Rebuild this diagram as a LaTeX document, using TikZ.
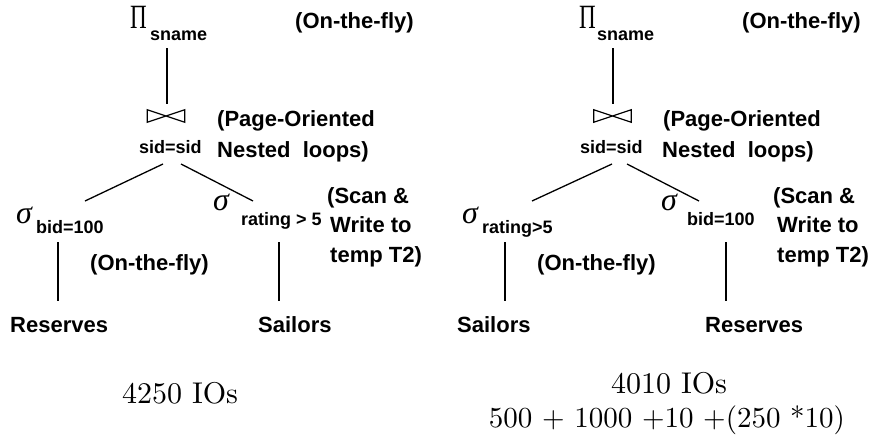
\documentclass[tikz,border=0pt]{standalone}
\usepackage{fontspec}
\setsansfont{Liberation Sans}
\newfontfamily\grkfont{Liberation Serif}
\newfontfamily\costfont{lmroman10-regular}[Extension=.otf]
\begin{document}
\begin{tikzpicture}[x=1pt,y=-1pt]
\tikzset{
  lbl/.style={font=\sffamily\bfseries\fontsize{22}{26}\selectfont, anchor=base west, inner sep=0pt},
  sub/.style={font=\sffamily\bfseries\fontsize{18}{22}\selectfont, anchor=base west, inner sep=0pt},
  cost/.style={font=\costfont\fontsize{30}{34}\selectfont, anchor=base, inner sep=0pt},
  calc/.style={font=\costfont\fontsize{29}{34}\selectfont, anchor=base, inner sep=0pt},
  piop/.style={font=\grkfont\fontsize{34}{36}\selectfont, anchor=base west, inner sep=0pt},
  sigop/.style={font=\grkfont\itshape\fontsize{32}{36}\selectfont, anchor=base west, inner sep=0pt},
  joinop/.style={minimum width=37pt, minimum height=12pt, inner sep=0pt},
  bowtie/.style={line width=1.2pt},
  edgeline/.style={line width=1.3pt},
}
\useasboundingbox (0,0) rectangle (873,439);

% ---------------- Left plan ----------------
\node[piop] (lpi) at (130,28) {\scalebox{0.68}[1]{Π}};
\node[sub] (lpisub) at (150,40) {sname};
\node[lbl] (lotf1) at (295,28) {(On-the-fly)};
\node[joinop] (ljoin) at (166,116) {};
\draw[bowtie] (ljoin.north west) -- (ljoin.south west) -- (ljoin.north east) -- (ljoin.south east) -- cycle;
\node[sub] (lsid) at (139,153) {sid=sid};
\node[lbl] (lpage) at (217,126) {(Page-Oriented};
\node[lbl] (lnest) at (217,157) {Nested\ \ loops)};
\node[sigop] (lsigA) at (16,223) {σ};
\node[sub] (lsigAsub) at (36,233) {bid=100};
\node[sigop] (lsigB) at (213,210) {σ};
\node[sub] (lsigBsub) at (241,225) {rating > 5};
\node[lbl] (lscan1) at (327,203) {(Scan \&};
\node[lbl] (lscan2) at (330,232) {Write to};
\node[lbl] (lscan3) at (330,262) {temp T2)};
\node[lbl] (lotf2) at (90,270) {(On-the-fly)};
\node[lbl] (lres) at (10,332) {Reserves};
\node[lbl] (lsai) at (258,332) {Sailors};
\node[cost] (lcost) at (180,403) {4250 IOs};

\coordinate (lpiB) at (167,48);
\coordinate (ljoinT) at (167,104);
\coordinate (ljoinL) at (163,164);
\coordinate (ljoinR) at (181,164);
\coordinate (lsigAT) at (85,201);
\coordinate (lsigBT) at (253,201);
\coordinate (lsigAB) at (58,242);
\coordinate (lresT) at (58,301);
\coordinate (lsigBB) at (279,242);
\coordinate (lsaiT) at (279,301);
\draw[edgeline] (lpiB) -- (ljoinT);
\draw[edgeline] (ljoinL) -- (lsigAT);
\draw[edgeline] (ljoinR) -- (lsigBT);
\draw[edgeline] (lsigAB) -- (lresT);
\draw[edgeline] (lsigBB) -- (lsaiT);

% ---------------- Right plan ----------------
\node[piop] (rpi) at (579,28) {\scalebox{0.68}[1]{Π}};
\node[sub] (rpisub) at (597,40) {sname};
\node[lbl] (rotf1) at (742,28) {(On-the-fly)};
\node[joinop] (rjoin) at (612.5,116) {};
\draw[bowtie] (rjoin.north west) -- (rjoin.south west) -- (rjoin.north east) -- (rjoin.south east) -- cycle;
\node[sub] (rsid) at (580,153) {sid=sid};
\node[lbl] (rpage) at (663,126) {(Page-Oriented};
\node[lbl] (rnest) at (662,157) {Nested\ \ loops)};
\node[sigop] (rsigA) at (462,223) {σ};
\node[sub] (rsigAsub) at (482,233) {rating>5};
\node[sigop] (rsigB) at (661,210) {σ};
\node[sub] (rsigBsub) at (687,225) {bid=100};
\node[lbl] (rscan1) at (773,203) {(Scan \&};
\node[lbl] (rscan2) at (777,232) {Write to};
\node[lbl] (rscan3) at (777,262) {temp T2)};
\node[lbl] (rotf2) at (537,270) {(On-the-fly)};
\node[lbl] (rsai) at (457,332) {Sailors};
\node[lbl] (rres) at (705,332) {Reserves};
\node[cost] (rcost) at (669,393) {4010 IOs};
\node[calc] (rcalc) at (667,427) {500 + 1000 +10 +(250 *10)};

\coordinate (rpiB) at (613,48);
\coordinate (rjoinT) at (613,104);
\coordinate (rjoinL) at (612,164);
\coordinate (rjoinR) at (627,164);
\coordinate (rsigAT) at (532,201);
\coordinate (rsigBT) at (699,201);
\coordinate (rsigAB) at (505,242);
\coordinate (rsaiT) at (505,301);
\coordinate (rsigBB) at (726,242);
\coordinate (rresT) at (726,301);
\draw[edgeline] (rpiB) -- (rjoinT);
\draw[edgeline] (rjoinL) -- (rsigAT);
\draw[edgeline] (rjoinR) -- (rsigBT);
\draw[edgeline] (rsigAB) -- (rsaiT);
\draw[edgeline] (rsigBB) -- (rresT);
\end{tikzpicture}
\end{document}
